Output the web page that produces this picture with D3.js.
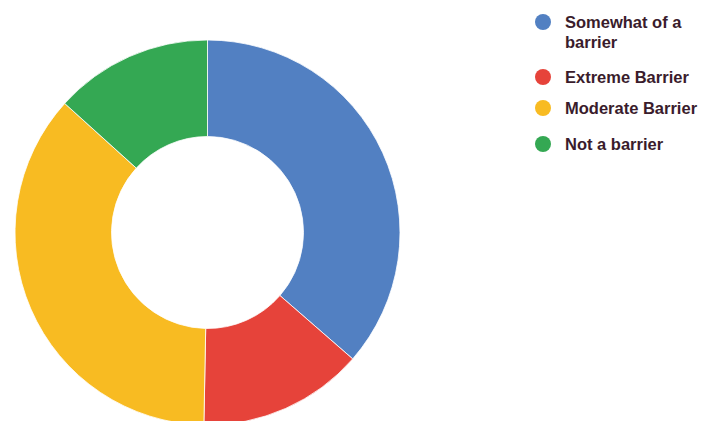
<!DOCTYPE html>
<html>
<head>
<meta charset="utf-8">
<script src="https://cdn.jsdelivr.net/npm/d3@7"></script>
<style>
  html, body { margin: 0; padding: 0; background: #ffffff; overflow: hidden; }
  svg { display: block; }
</style>
</head>
<body>
<svg id="chart" width="704" height="421"></svg>
<script>
const categories = ["Somewhat of a barrier", "Extreme Barrier", "Moderate Barrier", "Not a barrier"];
const values = [36.4, 13.9, 36.4, 13.3];
const colors = ["#5280c2", "#e6433a", "#f8bb22", "#34a853"];

const svg = d3.select("#chart");
const cx = 207.5, cy = 232.5, outerR = 192.5, innerR = 96;

const pie = d3.pie().sort(null).value(d => d.value);
const arc = d3.arc().innerRadius(innerR).outerRadius(outerR);
const data = categories.map((c, i) => ({ name: c, value: values[i], color: colors[i] }));

const g = svg.append("g").attr("transform", `translate(${cx},${cy})`);
g.selectAll("path")
  .data(pie(data))
  .join("path")
  .attr("d", arc)
  .attr("fill", d => d.data.color)
  .attr("stroke", "#ffffff")
  .attr("stroke-width", 0.8);

// Legend
const legendX = 543, textX = 565;
const legendRows = [22, 77, 108, 144];
const lineH = 20;
const maxW = 150;

const legend = svg.append("g");
data.forEach((d, i) => {
  const y = legendRows[i];
  legend.append("circle")
    .attr("cx", legendX).attr("cy", y).attr("r", 8)
    .attr("fill", d.color);
  const t = legend.append("text")
    .attr("x", textX).attr("y", y + 6)
    .attr("font-family", "Liberation Sans, Arial, sans-serif")
    .attr("font-weight", "bold")
    .attr("font-size", 16.5)
    .attr("fill", "#3a1c2c");
  const words = d.name.split(" ");
  let line = [];
  let tspan = t.append("tspan").attr("x", textX).attr("dy", 0);
  words.forEach(w => {
    line.push(w);
    tspan.text(line.join(" "));
    if (tspan.node().getComputedTextLength() > maxW && line.length > 1) {
      line.pop();
      tspan.text(line.join(" "));
      line = [w];
      tspan = t.append("tspan").attr("x", textX).attr("dy", lineH).text(w);
    }
  });
});
</script>
</body>
</html>
